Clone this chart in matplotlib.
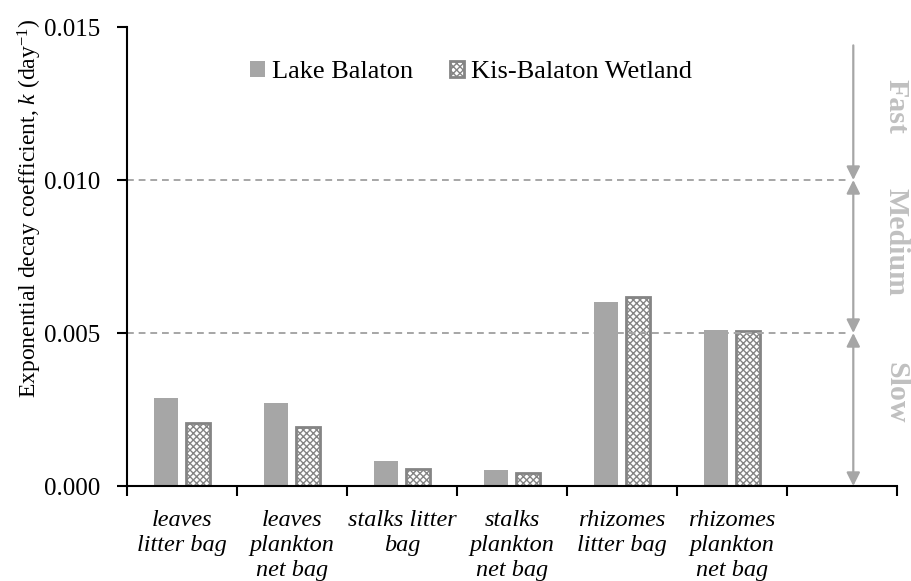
import matplotlib
matplotlib.use("Agg")
import matplotlib.pyplot as plt
import numpy as np

categories = ["leaves\nlitter bag", "leaves\nplankton\nnet bag", "stalks litter\nbag",
              "stalks\nplankton\nnet bag", "rhizomes\nlitter bag", "rhizomes\nplankton\nnet bag"]
lake_balaton = [0.00288, 0.00272, 0.00082, 0.00052, 0.00602, 0.00510]
kis_balaton = [0.00206, 0.00193, 0.00056, 0.00042, 0.00619, 0.00508]
series_names = ["Lake Balaton", "Kis-Balaton Wetland"]
class_bounds = [0.0, 0.005, 0.010, 0.0144]
class_names = ["Slow", "Medium", "Fast"]
yticks = [0.000, 0.005, 0.010, 0.015]

plt.rcParams["font.family"] = ["Liberation Serif", "DejaVu Serif"]
plt.rcParams["mathtext.fontset"] = "custom"
plt.rcParams["mathtext.rm"] = "Liberation Serif"
plt.rcParams["mathtext.it"] = "Liberation Serif:italic"
plt.rcParams["hatch.linewidth"] = 1.0

fig = plt.figure(figsize=(9.11, 5.81), dpi=100)
ax = fig.add_axes([0.139, 0.1635, 0.846, 0.79])

n_slots = len(categories) + 1
x = np.arange(len(categories))
w = 0.22
gap = 0.035
ax.bar(x - w / 2 - gap, lake_balaton, width=w, color="#a6a6a6", edgecolor="none",
       label=series_names[0])
ax.bar(x + w / 2 + gap, kis_balaton, width=w, color="white", edgecolor="#848484",
       hatch="xxxxx", linewidth=2.0, label=series_names[1])

ax.set_xlim(-0.5, n_slots - 0.5)
ax.set_ylim(0, 0.015)

# class boundary guides and arrows
arrow_x = 6.1
gray = "#a6a6a6"
for b in class_bounds[1:3]:
    ax.plot([-0.5, arrow_x - 0.06], [b, b], ls=(0, (3.5, 2.5)), color=gray, lw=1.4)
for lo, hi, name in zip(class_bounds[:-1], class_bounds[1:], class_names):
    style = "-|>" if name == "Fast" else "<|-|>"
    ax.annotate("", xy=(arrow_x, lo), xytext=(arrow_x, hi),
                arrowprops=dict(arrowstyle=style, color=gray, lw=1.6,
                                mutation_scale=20, shrinkA=0, shrinkB=0))
text_y = {"Fast": 0.01239, "Medium": 0.00797, "Slow": 0.00305}
for name in class_names:
    ax.text(6.49, text_y[name], name, rotation=-90, color="#c0c0c0", fontsize=21.5,
            fontweight="bold", ha="center", va="center", clip_on=False)

ax.set_xticks(np.arange(-0.5, n_slots, 1.0))
ax.set_xticklabels([])
ax.set_xticks(x, minor=True)
ax.set_xticklabels(categories, minor=True, fontstyle="italic", fontsize=17.5,
                   linespacing=1.27)
ax.tick_params(axis="x", which="minor", length=0, pad=17)
ax.tick_params(axis="x", which="major", length=7, width=1.5, direction="out")
ax.set_yticks(yticks)
ax.set_yticklabels([f"{v:.3f}" for v in yticks], fontsize=18)
ax.tick_params(axis="y", length=7, width=1.5, direction="out", pad=12)

for s in ["top", "right"]:
    ax.spines[s].set_visible(False)
for s in ["left", "bottom"]:
    ax.spines[s].set_linewidth(1.5)

ax.set_ylabel(r"Exponential decay coefficient, $\mathit{k}$ (day$^{\mathrm{-1}}$)",
              fontsize=17)
ax.yaxis.set_label_coords(-0.107, 0.606)

ax.legend(loc="center", bbox_to_anchor=(0.447, 0.902), ncol=2, frameon=False,
          fontsize=19, handlelength=0.55, handleheight=0.55, handletextpad=0.25,
          columnspacing=1.4, borderpad=0)

fig.savefig("out.png", dpi=100)
